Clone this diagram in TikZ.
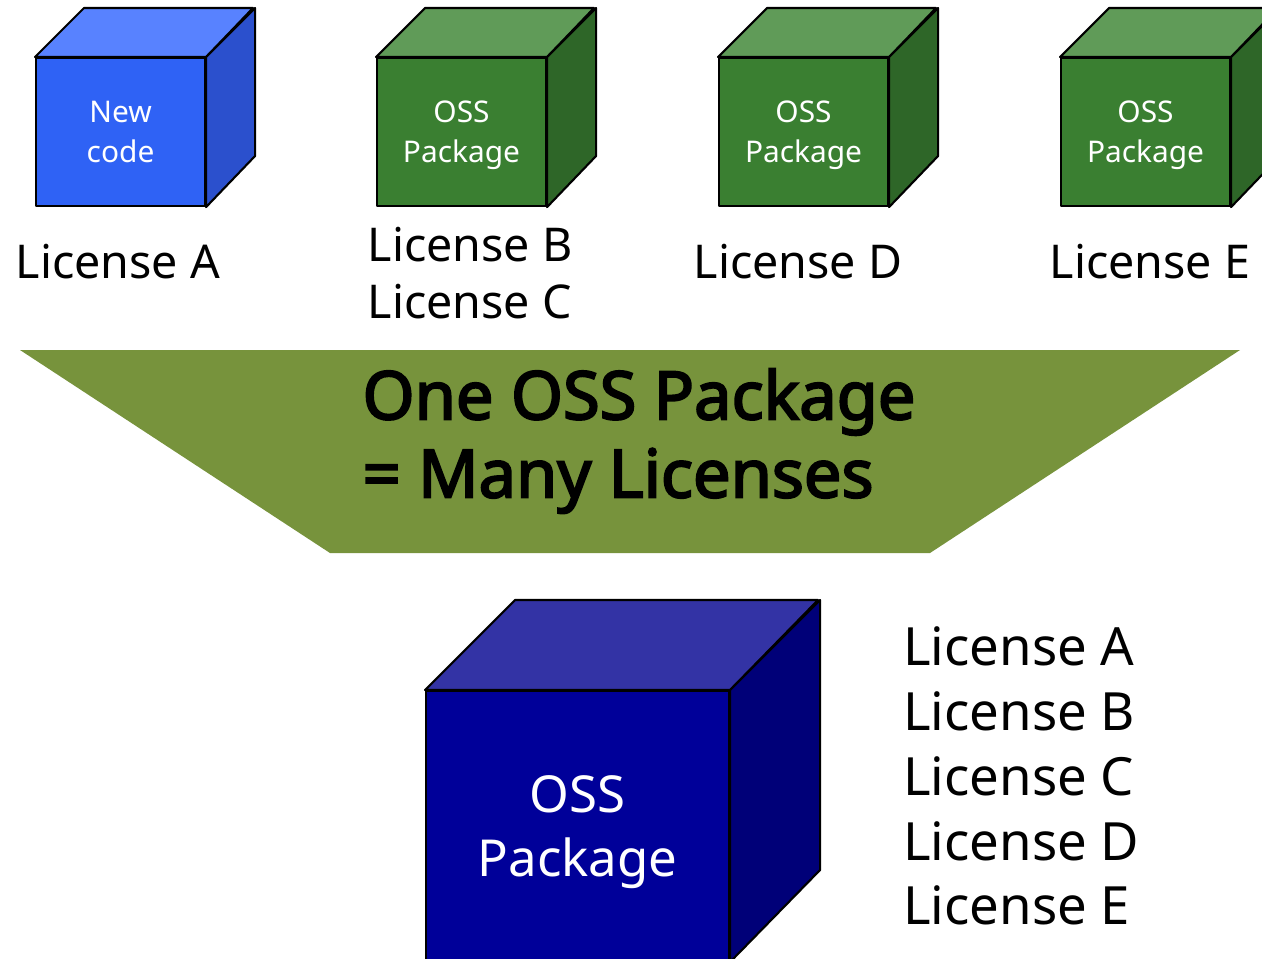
\documentclass[tikz,border=0pt]{standalone}
\usepackage{fontspec}
\setmainfont{Noto Sans}
\newfontfamily\mottofont{Noto Sans}[FakeBold=3]
\usetikzlibrary{positioning}

\definecolor{newfront}{RGB}{47,98,245}
\definecolor{newtop}{RGB}{88,130,255}
\definecolor{newside}{RGB}{43,80,205}
\definecolor{ossfront}{RGB}{58,127,49}
\definecolor{osstop}{RGB}{96,155,88}
\definecolor{ossside}{RGB}{46,102,40}
\definecolor{bigfront}{RGB}{0,0,153}
\definecolor{bigtop}{RGB}{51,51,165}
\definecolor{bigside}{RGB}{0,0,120}
\definecolor{funnel}{RGB}{119,147,60}

\begin{document}
\begin{tikzpicture}[x=0.02cm, y=-0.02cm,
  face/.style={draw=black, line width=1.2pt, line join=round},
  front/.style={face, anchor=north west, inner sep=0pt, text=white, align=center,
    text depth=0pt, minimum width=3.38cm, minimum height=2.96cm,
    font=\fontsize{17}{22.7}\selectfont},
  lic/.style={inner sep=0pt, align=left, font=\fontsize{26.5}{32.9}\selectfont}]
\useasboundingbox (0,0) rectangle (1262,958);
\clip (0,0) rectangle (1262,958);

% new code
\node[front, fill=newfront] (new) at (35,57) {New\\code};
\draw[face, fill=newtop] (new.north west) -- ++(49,-49) -- ++(169,0) -- (new.north east) -- cycle;
\draw[face, fill=newside] (new.north east) -- ++(49,-49) -- ++(0,148) -- (new.south east) -- cycle;

% oss packages
\foreach \x [count=\i] in {376,718,1060} {
  \node[front, fill=ossfront] (oss\i) at (\x,57) {OSS\\Package};
  \draw[face, fill=osstop] (oss\i.north west) -- ++(49,-49) -- ++(169,0) -- (oss\i.north east) -- cycle;
  \draw[face, fill=ossside] (oss\i.north east) -- ++(49,-49) -- ++(0,148) -- (oss\i.south east) -- cycle;
}

\node[lic] (licA) at (118,262) {License A};
\node[lic] (licBC) at (470,273) {License B\\License C};
\node[lic] (licD) at (798,262) {License D};
\node[lic] (licE) at (1150,262) {License E};

% funnel
\fill[funnel] (20,350) -- (1240,350) -- (930,553) -- (330,553) -- cycle;
\node[align=left, inner sep=0pt, font=\mottofont\fontsize{38}{44.5}\selectfont] (motto) at (639,441)
  {One OSS Package\\= Many Licenses};

% result
\node[front, fill=bigfront, minimum width=6.06cm, minimum height=5.4cm,
  font=\fontsize{29}{36.9}\selectfont] (big) at (425,690) {OSS\\Package};
\draw[face, fill=bigtop] (big.north west) -- ++(90,-90) -- ++(303,0) -- (big.north east) -- cycle;
\draw[face, fill=bigside] (big.north east) -- ++(90,-90) -- ++(0,270) -- (big.south east) -- cycle;

\node[lic, anchor=west, font=\fontsize{30}{36.9}\selectfont] (all) at (903,776)
  {License A\\License B\\License C\\License D\\License E};
\end{tikzpicture}
\end{document}
